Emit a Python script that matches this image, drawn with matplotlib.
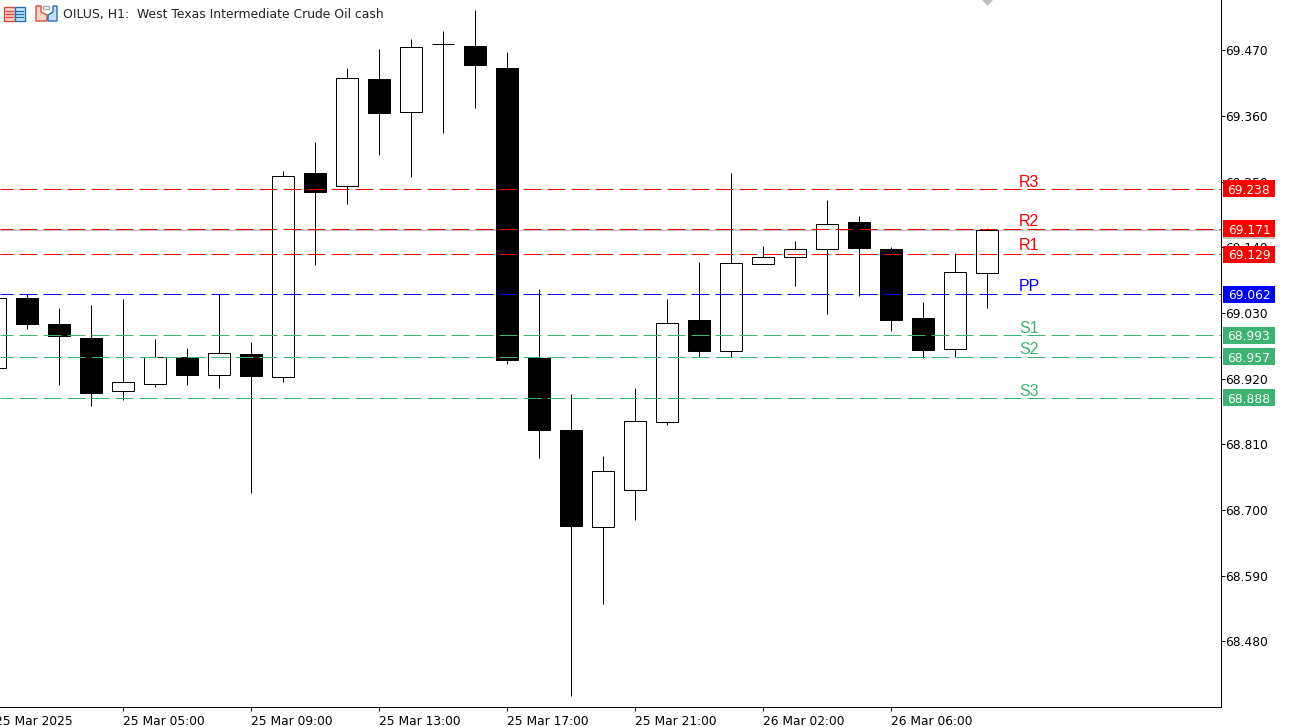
import matplotlib
matplotlib.use("Agg")
import matplotlib.pyplot as plt
from matplotlib.patches import Rectangle, Polygon
from matplotlib.transforms import blended_transform_factory

# OHLC, one entry per H1 bar
opens = [68.938, 69.056, 69.011, 68.989, 68.900, 68.912, 68.957, 68.927,
         68.962, 68.923, 69.264, 69.243, 69.423, 69.367, 69.480, 69.478,
         69.440, 68.954, 68.835, 68.672, 68.733, 68.848, 69.019, 68.967,
         69.113, 69.124, 69.138, 69.183, 69.138, 69.021, 68.970, 69.098]
highs = [69.056, 69.062, 69.039, 69.044, 69.054, 68.986, 68.971, 69.062,
         68.981, 69.268, 69.317, 69.441, 69.472, 69.489, 69.502, 69.537,
         69.467, 69.070, 68.895, 68.790, 68.905, 69.053, 69.115, 69.264,
         69.142, 69.150, 69.220, 69.192, 69.140, 69.049, 69.131, 69.173]
lows = [68.938, 69.003, 68.910, 68.874, 68.884, 68.906, 68.909, 68.904,
        68.728, 68.914, 69.111, 69.212, 69.295, 69.258, 69.331, 69.373,
        68.944, 68.787, 68.388, 68.542, 68.683, 68.842, 68.957, 68.957,
        69.113, 69.075, 69.028, 69.058, 69.000, 68.954, 68.957, 69.038]
closes = [69.056, 69.011, 68.991, 68.896, 68.915, 68.957, 68.926, 68.964,
          68.924, 69.260, 69.233, 69.424, 69.365, 69.476, 69.480, 69.446,
          68.951, 68.834, 68.673, 68.766, 68.850, 69.014, 68.966, 69.114,
          69.124, 69.138, 69.180, 69.139, 69.018, 68.968, 69.099, 69.170]

level_names = ["R3", "R2", "R1", "PP", "S1", "S2", "S3"]
level_values = [69.238, 69.171, 69.129, 69.062, 68.993, 68.957, 68.888]
level_colors = ["#FF0000", "#FF0000", "#FF0000", "#0000FF", "#3CB371", "#3CB371", "#3CB371"]
label_offsets = [1.5, 2.7, 4.3, 3.5, 2.3, 2.3, 2.3]

ask_price = 69.170

price_ticks = [69.470, 69.360, 69.250, 69.140, 69.030, 68.920, 68.810, 68.700, 68.590, 68.480]
time_tick_bars = [4, 8, 12, 16, 20, 24, 28]
time_tick_labels = ["25 Mar 05:00", "25 Mar 09:00", "25 Mar 13:00",
                    "25 Mar 17:00", "25 Mar 21:00", "26 Mar 02:00", "26 Mar 06:00"]
first_label = "25 Mar 2025"

W, H = 1291, 727
PX = 0.72  # one pixel in points at dpi 100
plt.rcParams["lines.scale_dashes"] = False
plt.rcParams["font.family"] = ["DejaVu Sans"]
TICK_SIZE = 8.8
PX_PER_UNIT = 597
TOP_PRICE = 69.5545
LEFT_BARS = 5.2 / 32

fig = plt.figure(figsize=(W / 100, H / 100), dpi=100, facecolor="white")
ax = fig.add_axes([0, 1 - 707.3 / H, 1220.5 / W, 707.3 / H])

# overlay in pixel coords for the window furniture
px = fig.add_axes([0, 0, 1, 1], zorder=10)
px.set_xlim(0, W)
px.set_ylim(H, 0)
px.axis("off")
px.patch.set_alpha(0)

ax.axhline(ask_price, color="#C0C0C0", lw=PX, zorder=1)

bars = list(range(len(opens)))
ax.vlines(bars, lows, highs, color="black", lw=PX, zorder=2)
body_bottom = [min(o, c) for o, c in zip(opens, closes)]
body_height = [abs(c - o) for o, c in zip(opens, closes)]
body_fill = ["white" if c >= o else "black" for o, c in zip(opens, closes)]
ax.bar(bars, body_height, bottom=body_bottom, width=22 / 32, color=body_fill,
       edgecolor="black", linewidth=PX, zorder=3)

# pivot levels with their names and price tags
tag_tf = blended_transform_factory(px.transData, ax.transData)
ax.add_patch(Rectangle((1223, ask_price - 9.5 / PX_PER_UNIT), 52, 18 / PX_PER_UNIT,
                       color="#C0C0C0", lw=0, transform=tag_tf, clip_on=False, zorder=5))
for name, value, col, off in zip(level_names, level_values, level_colors, label_offsets):
    ax.axhline(value, color=col, lw=PX, zorder=4, linestyle=(5 * PX, (18 * PX, 6 * PX)),
               dash_capstyle="butt")
    ax.annotate(name, xy=(1019, value), xycoords=tag_tf, xytext=(0, off * PX),
                textcoords="offset points", color=col, fontsize=11.5,
                family="Liberation Sans", ha="left", va="baseline", zorder=6,
                annotation_clip=False)
    ax.add_patch(Rectangle((1223, value - 8.5 / PX_PER_UNIT), 52, 17 / PX_PER_UNIT,
                           color=col, lw=0, transform=tag_tf, clip_on=False, zorder=6))
    ax.text(1249, value, f"{value:.3f}", color="white", fontsize=TICK_SIZE, ha="center",
            va="center_baseline", transform=tag_tf, zorder=7)

ax.yaxis.tick_right()
ax.set_yticks(price_ticks)
ax.set_yticklabels([f"{p:.3f}" for p in price_ticks], va="center_baseline")
ax.set_xticks(time_tick_bars)
ax.set_xticklabels(time_tick_labels, ha="left")
ax.tick_params(axis="y", length=4 * PX, width=PX, pad=1 * PX, labelsize=TICK_SIZE, color="black")
ax.tick_params(axis="x", length=4 * PX, width=PX, pad=4 * PX, labelsize=TICK_SIZE, color="black")
# set limits last, set_xticks would widen them
ax.set_xlim(LEFT_BARS, LEFT_BARS + 1220.5 / 32)
ax.set_ylim(TOP_PRICE - 707.3 / PX_PER_UNIT, TOP_PRICE)
ax.annotate(first_label, xy=(0, 0), xycoords=ax.get_xaxis_transform(), xytext=(0, -8 * PX),
            textcoords="offset points", fontsize=TICK_SIZE, ha="left", va="top",
            annotation_clip=False)
for side in ["top", "left"]:
    ax.spines[side].set_visible(False)
for side in ["right", "bottom"]:
    ax.spines[side].set_linewidth(PX)

px.text(63, 13, "OILUS, H1:  West Texas Intermediate Crude Oil cash", fontsize=TICK_SIZE + 0.1,
        color="#222222", ha="left", va="center_baseline")

# grey marker clipped by the top edge
px.add_patch(Polygon([(982, 0), (993, 0), (987.5, 6)], color="#C0C0C0", lw=0))

# the two toolbar icons
px.add_patch(Rectangle((4, 6.5), 10.5, 14, fc="#FBD5CC", ec="#E0483C", lw=1.0))
px.add_patch(Rectangle((14.5, 6.5), 10.5, 14, fc="#CFE6F7", ec="#1F74B8", lw=1.0))
for y in [10.5, 13.5, 16.5]:
    px.plot([6, 13], [y, y], color="#E0483C", lw=1.0)
    px.plot([16, 23], [y, y], color="#1F74B8", lw=1.0)
px.add_patch(Polygon([(36, 6), (41, 6), (41, 12), (47, 15), (47, 21), (36, 21)],
                     fc="#FBD5CC", ec="#E0483C", lw=1.0))
px.add_patch(Polygon([(57, 6), (53, 6), (53, 12), (48, 15), (48, 21), (57, 21)],
                     fc="#BFE0F7", ec="#1F74B8", lw=1.0))
px.add_patch(Rectangle((43, 6), 6, 3, fc="white", ec="#AAAAAA", lw=1.0))

fig.savefig("out.png", dpi=100, facecolor="white")
